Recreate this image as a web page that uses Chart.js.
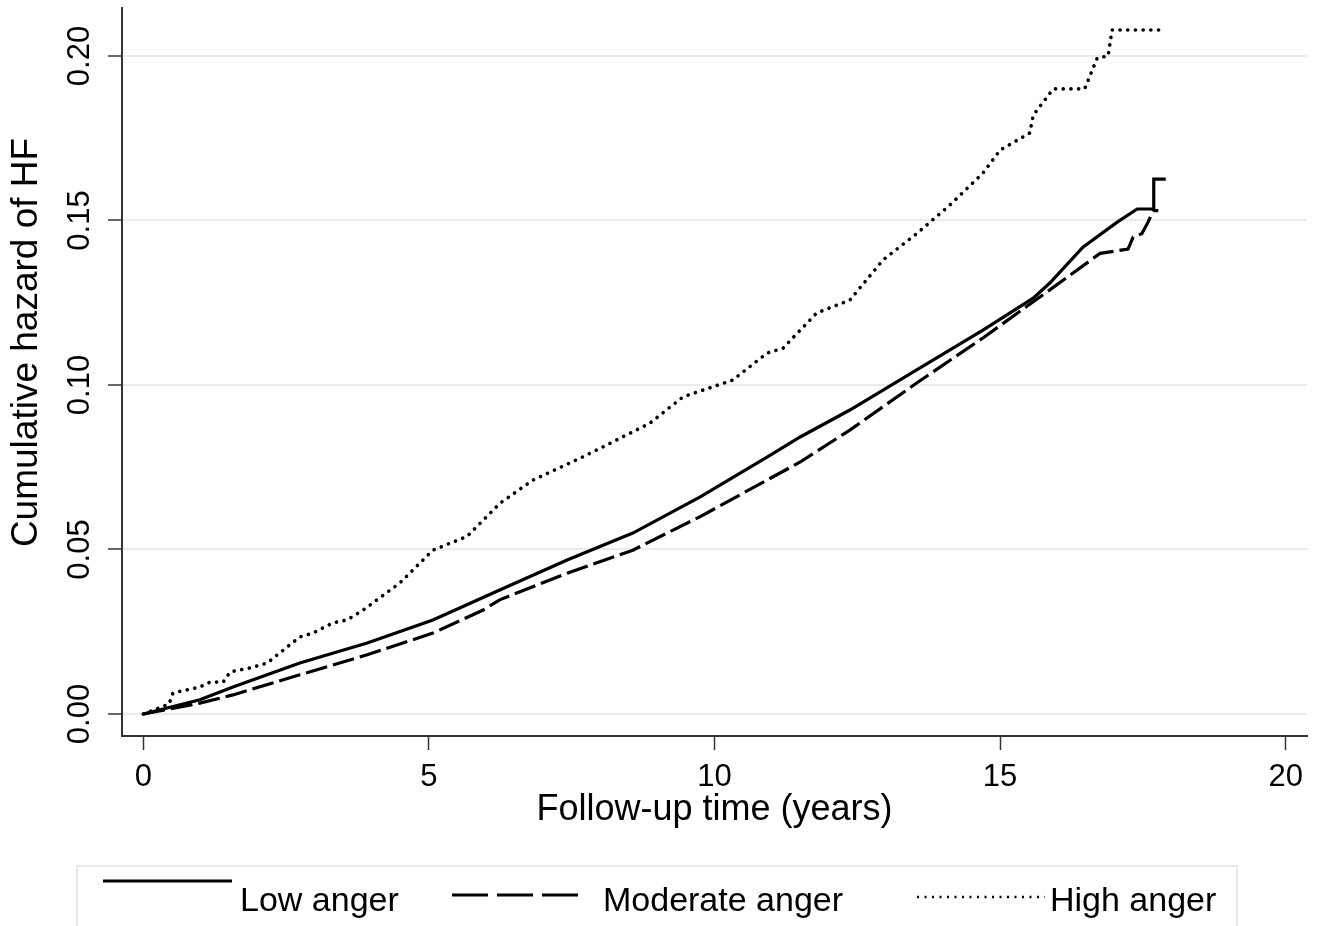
<!DOCTYPE html>
<html><head><meta charset="utf-8">
<script src="https://cdn.jsdelivr.net/npm/chart.js@4/dist/chart.umd.min.js"></script>
<style>html,body{margin:0;padding:0;background:#fff;}#wrap{width:1324px;height:926px;position:relative;}</style>
</head><body><div id="wrap"><canvas id="c" width="1324" height="926"></canvas></div>
<script>
// ---- data ----
const seriesLabels = ['Low anger', 'Moderate anger', 'High anger'];
const xTicks = [0, 5, 10, 15, 20];
const yTicks = [0, 0.05, 0.10, 0.15, 0.20];
const xTitle = 'Follow-up time (years)';
const yTitle = 'Cumulative hazard of HF';

const lowTime = [0, 0.99, 1.57, 2.74, 3.92, 5.07, 6.24, 7.42, 8.57, 9.75, 10.92, 11.50, 12.37, 13.54, 14.70, 15.58, 15.87, 16.45, 17.05, 17.40, 17.69, 17.69, 17.90];
const lowHaz  = [0, 0.0043, 0.0082, 0.0155, 0.0216, 0.0286, 0.0377, 0.0468, 0.0550, 0.0660, 0.0781, 0.0842, 0.0924, 0.1046, 0.1167, 0.1264, 0.1310, 0.1419, 0.1495, 0.1535, 0.1535, 0.1626, 0.1626];

const modTime = [0, 0.99, 1.57, 2.74, 3.92, 5.07, 5.95, 6.24, 7.42, 8.57, 9.75, 10.92, 11.50, 12.37, 13.54, 14.70, 15.87, 16.75, 17.24, 17.33, 17.48, 17.59, 17.68, 17.77];
const modHaz  = [0, 0.0033, 0.0058, 0.0119, 0.0180, 0.0246, 0.0316, 0.0347, 0.0428, 0.0498, 0.0600, 0.0711, 0.0766, 0.0863, 0.1006, 0.1143, 0.1289, 0.1400, 0.1413, 0.1450, 0.1460, 0.1495, 0.1530, 0.1530];

const highTime = [0, 0.45, 0.52, 0.99, 1.17, 1.40, 1.52, 1.87, 2.17, 2.52, 2.74, 2.97, 3.32, 3.57, 3.85, 4.49, 5.07, 5.67, 6.24, 6.82, 7.70, 8.29, 8.87, 9.45, 10.32, 10.92, 11.20, 11.79, 12.37, 12.95, 13.54, 14.12, 14.70, 15.00, 15.52, 15.58, 15.93, 16.48, 16.70, 16.89, 16.96, 17.83];
const highHaz  = [0, 0.0030, 0.0064, 0.0082, 0.0097, 0.0097, 0.0128, 0.0140, 0.0155, 0.0204, 0.0234, 0.0246, 0.0277, 0.0286, 0.0316, 0.0398, 0.0498, 0.0540, 0.0640, 0.0711, 0.0782, 0.0833, 0.0884, 0.0964, 0.1015, 0.1097, 0.1112, 0.1219, 0.1258, 0.1380, 0.1460, 0.1547, 0.1644, 0.1714, 0.1766, 0.1820, 0.1900, 0.1900, 0.1994, 0.2000, 0.2079, 0.2079];

const pts = (t, h) => t.map((x, i) => ({x: x, y: h[i]}));
const FONT = '"Liberation Sans", Arial, Helvetica, sans-serif';
const lineStyles = [
  {borderDash: [], borderWidth: 3.2, borderCapStyle: 'butt'},
  {borderDash: [22, 6], borderWidth: 3.2, borderCapStyle: 'butt'},
  {borderDash: [0.1, 7.6], borderWidth: 3.6, borderCapStyle: 'round'}
];
const legendDash = [[], [36, 9], [2, 5.5]];

const customDraw = {
  id: 'customDraw',
  afterDraw(chart) {
    const ctx = chart.ctx;
    // y axis title
    ctx.save();
    ctx.font = '37px ' + FONT;
    ctx.fillStyle = '#000';
    ctx.textAlign = 'center';
    ctx.textBaseline = 'middle';
    ctx.translate(26.5, 342.5);
    ctx.rotate(-Math.PI / 2);
    ctx.fillText(yTitle, 0, 0);
    ctx.restore();
    // legend box
    ctx.save();
    ctx.strokeStyle = '#e2eaee';
    ctx.lineWidth = 2;
    ctx.strokeRect(77, 866, 1160, 80);
    const items = [
      {x0: 103, x1: 232, ly: 881, tx: 240},
      {x0: 452, x1: 582, ly: 895, tx: 603},
      {x0: 917, x1: 1045, ly: 897, tx: 1050}
    ];
    ctx.font = '34px ' + FONT;
    ctx.fillStyle = '#000';
    ctx.textAlign = 'left';
    ctx.textBaseline = 'alphabetic';
    items.forEach((it, i) => {
      ctx.beginPath();
      ctx.strokeStyle = '#000';
      ctx.lineWidth = i === 2 ? 2.5 : 3;
      ctx.setLineDash(legendDash[i]);
      ctx.moveTo(it.x0, it.ly);
      ctx.lineTo(it.x1, it.ly);
      ctx.stroke();
      ctx.setLineDash([]);
      ctx.fillText(chart.data.datasets[i].label, it.tx, 911);
    });
    ctx.restore();
  }
};

const zeroPad = s => { s.paddingTop = 0; s.paddingBottom = 0; s.paddingLeft = 0; s.paddingRight = 0; };

new Chart(document.getElementById('c'), {
  type: 'line',
  data: {
    datasets: [
      {label: seriesLabels[0], data: pts(lowTime, lowHaz)},
      {label: seriesLabels[1], data: pts(modTime, modHaz)},
      {label: seriesLabels[2], data: pts(highTime, highHaz)}
    ].map((d, i) => Object.assign(d, lineStyles[i], {borderColor: '#000', pointRadius: 0, tension: 0, fill: false}))
  },
  options: {
    responsive: false,
    animation: false,
    layout: {padding: {top: 8, right: 17, left: 0, bottom: 0}},
    plugins: {legend: {display: false}, tooltip: {enabled: false}},
    scales: {
      x: {
        type: 'linear',
        min: -0.373, max: 20.373,
        afterBuildTicks: s => { s.ticks = xTicks.map(v => ({value: v})); },
        afterFit: s => { s.height = 190; zeroPad(s); },
        ticks: {autoSkip: false, maxRotation: 0, minRotation: 0, padding: 9, color: '#000',
                font: {family: FONT, size: 31}, callback: v => String(v)},
        grid: {drawOnChartArea: false, drawTicks: true, tickLength: 14, tickColor: '#333', tickWidth: 1.5},
        border: {display: true, color: '#333', width: 2},
        title: {display: true, text: xTitle, color: '#000', font: {family: FONT, size: 36},
                padding: {top: 0, bottom: 94}}
      },
      y: {
        type: 'linear',
        min: -0.00669, max: 0.21459,
        afterBuildTicks: s => { s.ticks = yTicks.map(v => ({value: v})); },
        afterFit: s => { s.width = 122; zeroPad(s); },
        ticks: {autoSkip: false, minRotation: 90, maxRotation: 90, crossAlign: 'center', padding: -3,
                color: '#000', font: {family: FONT, size: 31}, callback: v => v.toFixed(2)},
        grid: {drawOnChartArea: true, color: '#e4eef2', lineWidth: 2, drawTicks: true, tickLength: 14,
               tickColor: '#333', tickWidth: 1.5},
        border: {display: true, color: '#333', width: 2},
        title: {display: false}
      }
    }
  },
  plugins: [customDraw]
});
</script>
</body></html>
